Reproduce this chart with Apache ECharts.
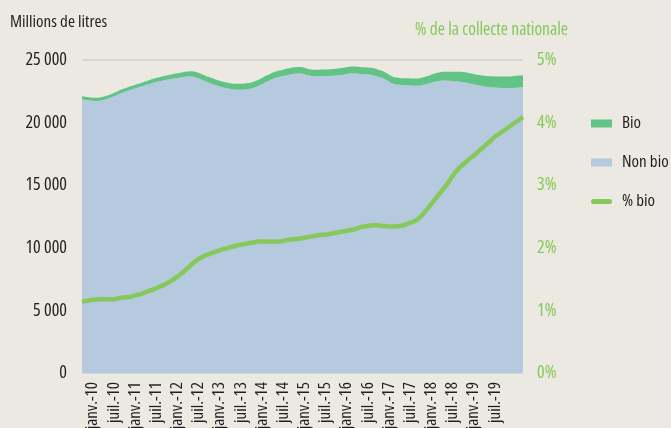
<!DOCTYPE html>
<html>
<head>
<meta charset="utf-8">
<script src="https://cdn.jsdelivr.net/npm/echarts@6/dist/echarts.min.js"></script>
<style>
	html, body { margin: 0; padding: 0; background: #ECE9E2; }
	#chart { width: 671px; height: 428px; }
</style>
</head>
<body>
<div id="chart"></div>
<script>
// months from oct.-09 to mars-20
const monthNames = ['janv.', 'févr.', 'mars', 'avr.', 'mai', 'juin', 'juil.', 'août', 'sept.', 'oct.', 'nov.', 'déc.']
const firstYear = 2009
const firstMonth = 9
const monthCount = 126
const lastLabelYear = 2019

const nonBio = [
	21850, 21806, 21765, 21733, 21723, 21740, 21800, 21879, 21978, 22096, 22212, 22349,
	22445, 22544, 22640, 22725, 22811, 22895, 22980, 23074, 23168, 23242, 23304, 23368,
	23430, 23482, 23532, 23571, 23611, 23648, 23675, 23683, 23632, 23544, 23419, 23294,
	23191, 23088, 22985, 22883, 22799, 22738, 22685, 22643, 22629, 22626, 22644, 22681,
	22727, 22813, 22928, 23065, 23222, 23349, 23476, 23574, 23653, 23719, 23785, 23851,
	23897, 23927, 23915, 23863, 23782, 23721, 23699, 23697, 23704, 23714, 23731, 23748,
	23765, 23792, 23829, 23875, 23912, 23919, 23905, 23880, 23858, 23836, 23805, 23746,
	23648, 23573, 23436, 23282, 23126, 23048, 23016, 22994, 22980, 22965, 22951, 22944,
	22971, 23035, 23106, 23187, 23257, 23318, 23350, 23353, 23333, 23305, 23285, 23271,
	23239, 23189, 23129, 23061, 22991, 22941, 22890, 22849, 22818, 22797, 22778, 22768,
	22759, 22759, 22769, 22788, 22807, 22817
]

const bio = [
	252, 254, 255, 257, 257, 260, 260, 261, 262, 264, 268, 271,
	275, 276, 280, 285, 289, 295, 300, 306, 312, 318, 326, 332,
	340, 348, 358, 369, 379, 392, 405, 417, 428, 436, 441, 446,
	449, 452, 455, 457, 461, 462, 465, 467, 471, 474, 476, 479,
	483, 487, 492, 495, 498, 501, 504, 506, 507, 511, 515, 519,
	523, 523, 525, 527, 528, 529, 531, 533, 536, 536, 539, 542,
	545, 548, 551, 555, 558, 561, 565, 570, 572, 574, 575, 574,
	572, 567, 564, 558, 554, 552, 554, 556, 560, 565, 569, 576,
	589, 605, 624, 643, 663, 682, 700, 717, 737, 755, 775, 789,
	801, 811, 821, 829, 839, 849, 860, 871, 882, 893, 902, 912,
	921, 931, 941, 952, 963, 973
]

const pctBio = [
	1.14, 1.15, 1.16, 1.17, 1.17, 1.18, 1.18, 1.18, 1.18, 1.18, 1.19, 1.20,
	1.21, 1.21, 1.22, 1.24, 1.25, 1.27, 1.29, 1.31, 1.33, 1.35, 1.38, 1.40,
	1.43, 1.46, 1.50, 1.54, 1.58, 1.63, 1.68, 1.73, 1.78, 1.82, 1.85, 1.88,
	1.90, 1.92, 1.94, 1.96, 1.98, 1.99, 2.01, 2.02, 2.04, 2.05, 2.06, 2.07,
	2.08, 2.09, 2.10, 2.10, 2.10, 2.10, 2.10, 2.10, 2.10, 2.11, 2.12, 2.13,
	2.14, 2.14, 2.15, 2.16, 2.17, 2.18, 2.19, 2.20, 2.21, 2.21, 2.22, 2.23,
	2.24, 2.25, 2.26, 2.27, 2.28, 2.29, 2.31, 2.33, 2.34, 2.35, 2.36, 2.36,
	2.36, 2.35, 2.35, 2.34, 2.34, 2.34, 2.35, 2.36, 2.38, 2.40, 2.42, 2.45,
	2.50, 2.56, 2.63, 2.70, 2.77, 2.84, 2.91, 2.98, 3.06, 3.14, 3.22, 3.28,
	3.33, 3.38, 3.43, 3.47, 3.52, 3.57, 3.62, 3.67, 3.72, 3.77, 3.81, 3.85,
	3.89, 3.93, 3.97, 4.01, 4.05, 4.09
]

let months = []
let labelShown = []
for (let i = 0; i < monthCount; i++) {
	let m = (firstMonth + i) % 12
	let y = firstYear + Math.floor((firstMonth + i) / 12)
	months.push(monthNames[m] + '-' + String(y).slice(2))
	labelShown.push((m === 0 || m === 6) && y <= lastLabelYear)
}

// 'condensed' goes into the canvas font shorthand as font-stretch
const font = 'Open Sans'
const stretch = 'condensed'
const dark = '#1f1f1f'
const green = '#86C95A'
const bioGreen = '#62C387'
const blue = '#B5C9DF'

let option = {
	backgroundColor: '#ECE9E2',
	animation: false,
	textStyle: { fontFamily: font, fontStyle: stretch },
	title: [
		{
			text: 'Millions de litres',
			left: 5,
			top: 9,
			textStyle: { fontFamily: font, fontStyle: stretch, fontSize: 17, fontWeight: 'normal', color: dark }
		},
		{
			text: '% de la collecte nationale',
			left: 410,
			top: 16,
			textStyle: { fontFamily: font, fontStyle: stretch, fontSize: 17.5, fontWeight: 'normal', color: green }
		}
	],
	legend: {
		orient: 'vertical',
		left: 586,
		top: 110,
		itemWidth: 21,
		itemHeight: 8,
		itemGap: 22,
		textStyle: { fontFamily: font, fontStyle: stretch, fontSize: 17, color: dark, padding: [0, 0, 0, 5] },
		data: [
			{ name: 'Bio', icon: 'rect' },
			{ name: 'Non bio', icon: 'rect' },
			{
				name: '% bio',
				icon: 'path://M2.5,0 L18.5,0 A2.5,2.5 0 0 1 18.5,5 L2.5,5 A2.5,2.5 0 0 1 2.5,0 Z',
				itemStyle: { color: green }
			}
		]
	},
	grid: {
		left: 82,
		right: 148,
		top: 60,
		bottom: 55,
		outerBoundsMode: 'none'
	},
	xAxis: {
		type: 'category',
		data: months,
		boundaryGap: false,
		axisLine: { show: false },
		axisTick: { show: false },
		axisLabel: {
			rotate: 90,
			margin: 9,
			fontFamily: font,
			fontStyle: stretch,
			fontSize: 17,
			color: dark,
			interval: function(index) {
				return labelShown[index]
			}
		}
	},
	yAxis: [
		{
			type: 'value',
			min: 0,
			max: 25000,
			interval: 5000,
			z: 3,
			axisLine: { show: false },
			axisTick: { show: false },
			splitLine: { lineStyle: { color: 'rgba(110,125,150,0.22)', width: 1.5 } },
			axisLabel: {
				margin: 15,
				fontFamily: font,
				fontStyle: stretch,
				fontSize: 18,
				color: dark,
				formatter: function(v) {
					return String(v).replace(/\B(?=(\d{3})+(?!\d))/g, ' ')
				}
			}
		},
		{
			type: 'value',
			min: 0,
			max: 5,
			interval: 1,
			axisLine: { show: false },
			axisTick: { show: false },
			splitLine: { show: false },
			axisLabel: {
				margin: 14,
				fontFamily: font,
				fontStyle: stretch,
				fontSize: 18,
				color: green,
				formatter: '{value}%'
			}
		}
	],
	series: [
		{
			name: 'Non bio',
			type: 'line',
			stack: 'collecte',
			data: nonBio,
			symbol: 'none',
			smooth: true,
			lineStyle: { width: 0 },
			itemStyle: { color: blue },
			areaStyle: { color: blue, opacity: 1 }
		},
		{
			name: 'Bio',
			type: 'line',
			stack: 'collecte',
			data: bio,
			symbol: 'none',
			smooth: true,
			lineStyle: { width: 0 },
			itemStyle: { color: bioGreen },
			areaStyle: { color: bioGreen, opacity: 1 }
		},
		{
			name: '% bio',
			type: 'line',
			yAxisIndex: 1,
			data: pctBio,
			symbol: 'none',
			smooth: true,
			z: 5,
			itemStyle: { color: green },
			lineStyle: { color: green, width: 4.5 }
		}
	]
}

let myChart = echarts.init(document.getElementById('chart'))
myChart.setOption(option)
</script>
</body>
</html>
